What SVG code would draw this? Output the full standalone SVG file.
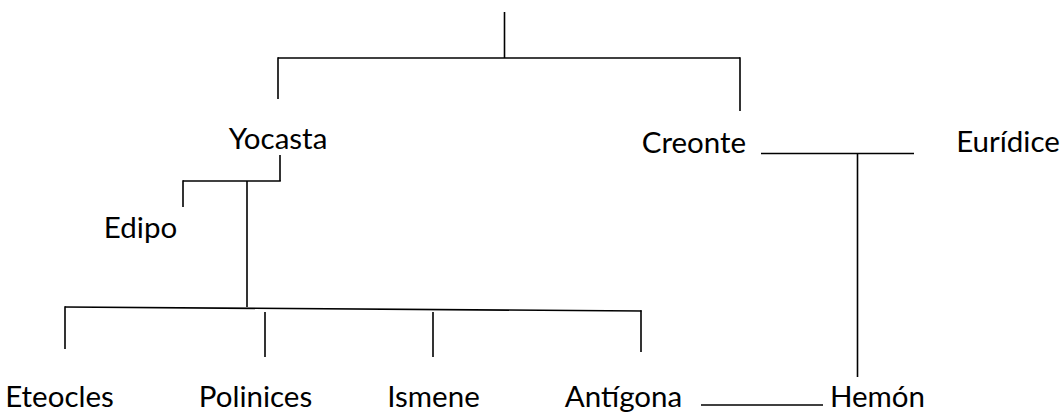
<svg xmlns="http://www.w3.org/2000/svg" width="1062" height="414" viewBox="0 0 1062 414">
<style>
.t{font-family:Lato,"Open Sans","Liberation Sans",sans-serif;font-size:29.5px;fill:#000;text-anchor:middle}
.c line{stroke:#000;stroke-width:1.6;fill:none}
</style>
<rect width="1062" height="414" fill="#fff"/>
<g class="c" id="connectors">
<line x1="504.5" y1="12" x2="504.5" y2="58"/>
<line x1="278" y1="58" x2="740" y2="58"/>
<line x1="278" y1="57.2" x2="278" y2="99"/>
<line x1="740" y1="57.2" x2="740" y2="111"/>
<line x1="280" y1="155" x2="280" y2="181"/>
<line x1="183" y1="181" x2="280.8" y2="181"/>
<line x1="183" y1="180.2" x2="183" y2="207"/>
<line x1="247" y1="181" x2="247" y2="307"/>
<line x1="65" y1="307" x2="641.5" y2="311"/>
<line x1="65" y1="306.2" x2="65" y2="349"/>
<line x1="265" y1="312" x2="265" y2="357"/>
<line x1="433" y1="312" x2="433" y2="357"/>
<line x1="641" y1="310.2" x2="641" y2="352"/>
<line x1="761" y1="153.5" x2="914" y2="153.5"/>
<line x1="857.5" y1="154" x2="857.5" y2="377"/>
<line x1="701" y1="405" x2="823" y2="405"/>
</g>
<g id="n-yocasta"><text class="t" x="278" y="149">Yocasta</text></g>
<g id="n-creonte"><text class="t" x="694" y="153">Creonte</text></g>
<g id="n-euridice"><text class="t" x="1008" y="152">Eurídice</text></g>
<g id="n-edipo"><text class="t" x="140.5" y="238">Edipo</text></g>
<g id="n-eteocles"><text class="t" x="59.5" y="407">Eteocles</text></g>
<g id="n-polinices"><text class="t" x="255.5" y="407">Polinices</text></g>
<g id="n-ismene"><text class="t" x="433.5" y="407">Ismene</text></g>
<g id="n-antigona"><text class="t" x="623.5" y="407">Antígona</text></g>
<g id="n-hemon"><text class="t" x="877.5" y="407">Hemón</text></g>
</svg>
